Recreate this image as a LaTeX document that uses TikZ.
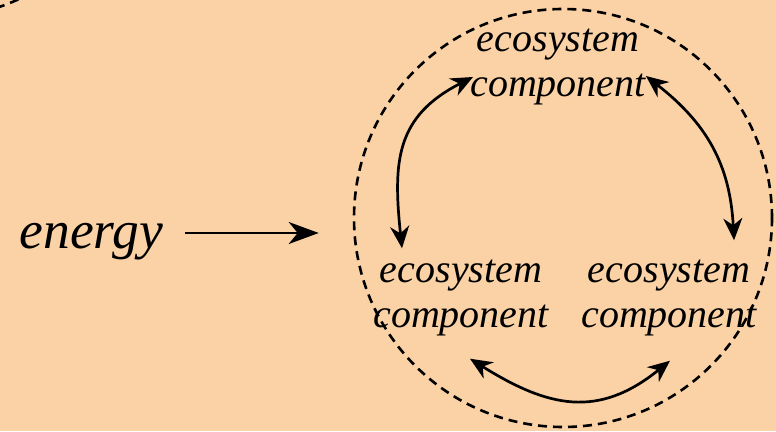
\documentclass[tikz,border=0pt]{standalone}
\usepackage{fontspec}
\setmainfont{Liberation Serif}
\usetikzlibrary{arrows.meta,positioning}
\definecolor{peach}{RGB}{250,210,166}

\begin{document}
\begin{tikzpicture}[x=1pt,y=1pt,>={Stealth[length=22pt,width=19pt,inset=7pt]},
    comp node/.style={align=center,inner sep=0pt,anchor=base,font=\fontsize{40}{45}\selectfont\itshape},
    boundary/.style={circle,draw,dash pattern=on 9pt off 6pt,line width=2.6pt,minimum size=418pt,inner sep=0pt},
    flow/.style={<->,line width=2.7pt}]
  \useasboundingbox[fill=peach] (0,0) rectangle (776,431);
  \clip (0,0) rectangle (776,431);
  \node[boundary] (outer) at (-68,622) {};
  \node[boundary] (system) at (563,213) {};
  \node[comp node] (top) at (558,334) {ecosystem\\component};
  \node[comp node] (left) at (461,103) {ecosystem\\component};
  \node[comp node] (right) at (669,103) {ecosystem\\component};
  \node[font=\fontsize{53.5}{60}\selectfont\itshape,inner sep=0pt,anchor=base] (energy) at (91.5,182) {energy};
  \coordinate (in) at ([yshift=16pt]energy.base east);

  \draw[->,line width=2.4pt,>={Stealth[length=30pt,width=22pt,inset=9pt]},shorten <=22pt,shorten >=34pt]
    (in) -- (in -| system.west);
  \path[flow]
    ([shift={(-59pt,12pt)}]left.north) edge[out=96,in=207,looseness=1.2] ([shift={(3pt,-9.5pt)}]top.west)
    ([yshift=-8.5pt]top.east) edge[out=-38,in=93,looseness=1.05] ([shift={(65pt,20pt)}]right.north)
    ([shift={(9pt,-22pt)}]left.south) edge[out=-32,in=219,looseness=1.18] ([shift={(1pt,-24pt)}]right.south);
\end{tikzpicture}
\end{document}
